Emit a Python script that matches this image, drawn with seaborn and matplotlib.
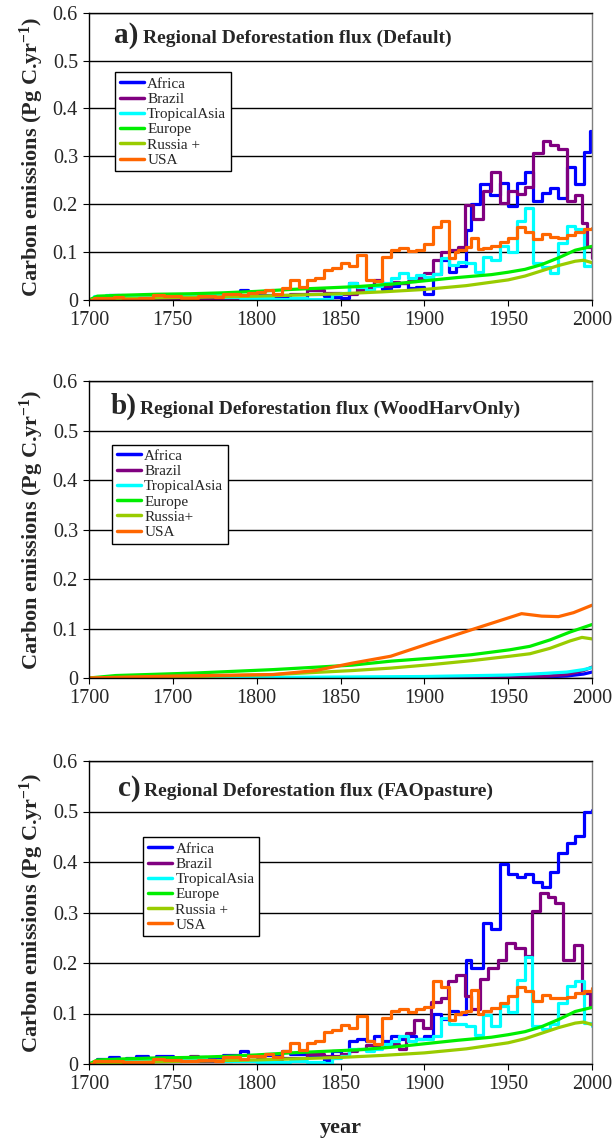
import matplotlib
matplotlib.use("Agg")
import matplotlib.pyplot as plt
import seaborn as sns

# ---- data (year, Pg C/yr) ----
regions = ["Africa", "Brazil", "TropicalAsia", "Europe", "Russia +", "USA"]
colors = ["#0000FF", "#800080", "#00FFFF", "#00EE00", "#99CC00", "#FF6600"]

# panel a: Default
a_africa = [(1700, 0.0), (1703, 0.006), (1712, 0.01), (1718, 0.006), (1735, 0.008), (1760, 0.007),
            (1775, 0.01), (1790, 0.02), (1795, 0.015), (1800, 0.01), (1810, 0.008), (1820, 0.004),
            (1830, 0.012), (1840, 0.009), (1845, 0.006), (1850, 0.004), (1855, 0.035), (1860, 0.022),
            (1865, 0.028), (1870, 0.04), (1875, 0.022), (1880, 0.03), (1885, 0.036), (1890, 0.026),
            (1895, 0.028), (1900, 0.013), (1905, 0.055), (1910, 0.083), (1915, 0.058), (1919, 0.072),
            (1925, 0.146), (1928, 0.2), (1933, 0.243), (1939, 0.22), (1945, 0.245), (1950, 0.197),
            (1955, 0.244), (1960, 0.268), (1965, 0.207), (1970, 0.223), (1975, 0.233), (1980, 0.213),
            (1985, 0.277), (1990, 0.242), (1995, 0.31), (1999, 0.352), (2000, 0.352)]
a_brazil = [(1700, 0.0), (1705, 0.003), (1725, 0.002), (1750, 0.004), (1770, 0.002), (1790, 0.005),
            (1800, 0.008), (1810, 0.01), (1820, 0.012), (1830, 0.02), (1840, 0.015), (1850, 0.012),
            (1860, 0.02), (1865, 0.026), (1870, 0.042), (1875, 0.03), (1880, 0.038), (1885, 0.035),
            (1890, 0.04), (1895, 0.046), (1900, 0.056), (1905, 0.083), (1910, 0.1), (1915, 0.104),
            (1920, 0.11), (1924, 0.198), (1929, 0.17), (1935, 0.228), (1940, 0.267), (1945, 0.203),
            (1950, 0.227), (1955, 0.222), (1960, 0.235), (1965, 0.306), (1971, 0.333), (1975, 0.323),
            (1980, 0.315), (1985, 0.207), (1990, 0.22), (1994, 0.16), (1997, 0.11), (2000, 0.088)]
a_tropasia = [(1700, 0.0), (1703, 0.008), (1710, 0.01), (1720, 0.008), (1740, 0.01), (1760, 0.012),
              (1770, 0.01), (1780, 0.006), (1790, 0.004), (1800, 0.005), (1810, 0.003), (1820, 0.005),
              (1830, 0.003), (1840, 0.002), (1845, 0.012), (1850, 0.015), (1855, 0.035), (1860, 0.028),
              (1865, 0.02), (1870, 0.03), (1875, 0.035), (1880, 0.045), (1885, 0.057), (1890, 0.045),
              (1895, 0.052), (1900, 0.048), (1905, 0.055), (1910, 0.087), (1915, 0.073), (1920, 0.08),
              (1925, 0.078), (1930, 0.058), (1935, 0.09), (1940, 0.083), (1945, 0.112), (1950, 0.1),
              (1955, 0.165), (1960, 0.193), (1965, 0.077), (1970, 0.068), (1975, 0.056), (1980, 0.118),
              (1985, 0.155), (1990, 0.148), (1995, 0.07), (2000, 0.075)]
a_usa = [(1700, 0.0), (1703, 0.005), (1715, 0.006), (1720, 0.003), (1730, 0.004), (1738, 0.01),
         (1745, 0.008), (1755, 0.005), (1765, 0.008), (1775, 0.006), (1780, 0.013), (1790, 0.01),
         (1795, 0.015), (1800, 0.016), (1805, 0.02), (1810, 0.013), (1815, 0.025), (1820, 0.041),
         (1825, 0.027), (1830, 0.042), (1835, 0.045), (1840, 0.063), (1845, 0.067), (1850, 0.078),
         (1855, 0.072), (1860, 0.094), (1865, 0.042), (1870, 0.04), (1875, 0.09), (1880, 0.104),
         (1885, 0.108), (1890, 0.102), (1895, 0.105), (1900, 0.116), (1905, 0.153), (1910, 0.166),
         (1915, 0.088), (1918, 0.1), (1920, 0.105), (1925, 0.11), (1928, 0.13), (1932, 0.106),
         (1935, 0.108), (1940, 0.112), (1945, 0.122), (1950, 0.13), (1955, 0.153), (1960, 0.143),
         (1965, 0.127), (1970, 0.137), (1975, 0.132), (1980, 0.13), (1985, 0.135), (1990, 0.143),
         (1995, 0.148), (2000, 0.15)]
europe = [(1700, 0.0), (1705, 0.008), (1720, 0.01), (1740, 0.012), (1760, 0.013), (1780, 0.015),
          (1800, 0.018), (1820, 0.022), (1840, 0.025), (1860, 0.028), (1880, 0.033), (1900, 0.04),
          (1920, 0.047), (1940, 0.053), (1950, 0.058), (1960, 0.064), (1970, 0.074), (1980, 0.088),
          (1990, 0.104), (1995, 0.108), (2000, 0.112)]
russia = [(1700, 0.0), (1720, 0.003), (1750, 0.005), (1800, 0.008), (1850, 0.013), (1875, 0.017),
          (1900, 0.022), (1925, 0.03), (1950, 0.042), (1960, 0.05), (1970, 0.061), (1980, 0.072),
          (1990, 0.081), (1995, 0.083), (2000, 0.078)]

# panel b: WoodHarvOnly
b_africa = [(1700, 0.0), (1900, 0.0), (1950, 0.001), (1970, 0.002), (1985, 0.004), (1995, 0.008), (2000, 0.012)]
b_brazil = [(1700, 0.0), (1900, 0.0), (1950, 0.001), (1970, 0.003), (1985, 0.007), (1995, 0.015), (2000, 0.022)]
b_tropasia = [(1700, 0.0), (1800, 0.001), (1900, 0.003), (1950, 0.006), (1970, 0.009), (1985, 0.012),
              (1995, 0.017), (2000, 0.021)]
b_europe = [(1700, 0.0), (1716, 0.005), (1763, 0.01), (1810, 0.017), (1857, 0.026), (1880, 0.034),
            (1904, 0.04), (1928, 0.047), (1951, 0.057), (1963, 0.064), (1975, 0.077), (1987, 0.093),
            (2000, 0.108)]
b_russia = [(1700, 0.0), (1763, 0.003), (1810, 0.007), (1857, 0.015), (1880, 0.02), (1904, 0.027),
            (1928, 0.035), (1951, 0.044), (1963, 0.049), (1975, 0.06), (1987, 0.075), (1994, 0.082),
            (2000, 0.079)]
b_usa = [(1700, 0.0), (1750, 0.004), (1810, 0.007), (1835, 0.015), (1857, 0.03), (1880, 0.044),
         (1904, 0.071), (1935, 0.105), (1958, 0.13), (1970, 0.125), (1980, 0.124), (1989, 0.132),
         (2000, 0.147)]

# panel c: FAOpasture
c_africa = [(1700, 0.0), (1705, 0.01), (1712, 0.013), (1718, 0.008), (1722, 0.012), (1728, 0.015),
            (1735, 0.012), (1740, 0.015), (1750, 0.012), (1760, 0.014), (1770, 0.012), (1780, 0.018),
            (1790, 0.025), (1795, 0.015), (1800, 0.018), (1810, 0.015), (1815, 0.026), (1820, 0.02),
            (1830, 0.015), (1840, 0.008), (1845, 0.025), (1850, 0.02), (1855, 0.045), (1860, 0.05),
            (1865, 0.045), (1870, 0.055), (1875, 0.045), (1880, 0.055), (1885, 0.05), (1890, 0.055),
            (1895, 0.05), (1900, 0.055), (1905, 0.1), (1910, 0.09), (1915, 0.105), (1920, 0.1),
            (1925, 0.205), (1928, 0.19), (1935, 0.28), (1940, 0.268), (1945, 0.396), (1950, 0.376),
            (1955, 0.371), (1960, 0.377), (1965, 0.361), (1970, 0.351), (1975, 0.38), (1980, 0.418),
            (1985, 0.437), (1990, 0.451), (1995, 0.5), (2000, 0.502)]
c_brazil = [(1700, 0.0), (1705, 0.003), (1730, 0.005), (1755, 0.01), (1760, 0.015), (1765, 0.005),
            (1785, 0.008), (1800, 0.01), (1815, 0.012), (1830, 0.02), (1840, 0.015), (1850, 0.02),
            (1855, 0.025), (1860, 0.03), (1865, 0.038), (1870, 0.035), (1880, 0.04), (1885, 0.03),
            (1889, 0.062), (1894, 0.088), (1899, 0.071), (1904, 0.123), (1910, 0.13), (1914, 0.165),
            (1919, 0.176), (1924, 0.134), (1928, 0.109), (1933, 0.168), (1938, 0.191), (1944, 0.206),
            (1949, 0.239), (1954, 0.229), (1960, 0.213), (1964, 0.302), (1969, 0.338), (1974, 0.331),
            (1978, 0.318), (1983, 0.206), (1989, 0.236), (1994, 0.14), (1999, 0.114), (2000, 0.114)]
c_tropasia = [(1700, 0.0), (1703, 0.006), (1720, 0.008), (1740, 0.01), (1760, 0.012), (1770, 0.008),
              (1780, 0.005), (1800, 0.004), (1810, 0.003), (1820, 0.005), (1830, 0.003), (1840, 0.002),
              (1845, 0.012), (1850, 0.015), (1855, 0.03), (1865, 0.025), (1870, 0.03), (1875, 0.04),
              (1880, 0.045), (1885, 0.056), (1890, 0.045), (1895, 0.05), (1905, 0.055), (1910, 0.091),
              (1915, 0.08), (1925, 0.075), (1930, 0.058), (1935, 0.097), (1940, 0.076), (1945, 0.115),
              (1950, 0.102), (1955, 0.167), (1960, 0.211), (1964, 0.076), (1970, 0.07), (1975, 0.08),
              (1980, 0.12), (1985, 0.155), (1990, 0.165), (1995, 0.081), (2000, 0.075)]
c_usa = [(1700, 0.0), (1703, 0.005), (1715, 0.006), (1720, 0.003), (1730, 0.004), (1738, 0.01),
         (1745, 0.008), (1755, 0.005), (1765, 0.008), (1775, 0.006), (1780, 0.013), (1790, 0.01),
         (1795, 0.015), (1800, 0.016), (1805, 0.02), (1810, 0.013), (1815, 0.025), (1820, 0.041),
         (1825, 0.027), (1830, 0.042), (1835, 0.045), (1840, 0.063), (1845, 0.067), (1850, 0.078),
         (1855, 0.072), (1860, 0.096), (1866, 0.045), (1870, 0.04), (1875, 0.091), (1880, 0.105),
         (1885, 0.108), (1890, 0.102), (1895, 0.108), (1900, 0.113), (1905, 0.165), (1910, 0.152),
         (1915, 0.087), (1918, 0.1), (1922, 0.103), (1925, 0.105), (1928, 0.146), (1932, 0.1),
         (1935, 0.105), (1940, 0.11), (1945, 0.12), (1950, 0.135), (1955, 0.152), (1960, 0.145),
         (1965, 0.125), (1970, 0.136), (1975, 0.13), (1980, 0.13), (1985, 0.132), (1990, 0.14),
         (1995, 0.145), (2000, 0.15)]

year_ticks = [1700, 1750, 1800, 1850, 1900, 1950, 2000]
year_labels = ["1700", "1750", "1800", "1850", "1900", "1950", "2000"]
year_labels_b = ["1700", "1700", "1800", "1850", "1900", "1950", "2000"]  # as printed in the original
y_ticks = [0, 0.1, 0.2, 0.3, 0.4, 0.5, 0.6]
y_labels = ["0", "0.1", "0.2", "0.3", "0.4", "0.5", "0.6"]

panels = [
    dict(letter="a)", title="Regional Deforestation flux (Default)",
         series=[a_africa, a_brazil, a_tropasia, europe, russia, a_usa],
         names=regions, steps=True, xlabels=year_labels,
         pos=[89, 12.7, 592, 300], leg=(0.052, 0.792), title_x=0.05, title_y=0.552),
    dict(letter="b)", title="Regional Deforestation flux (WoodHarvOnly)",
         series=[b_africa, b_brazil, b_tropasia, b_europe, b_russia, b_usa],
         names=["Africa", "Brazil", "TropicalAsia", "Europe", "Russia+", "USA"], steps=False,
         xlabels=year_labels_b, pos=[89, 381, 592, 678], leg=(0.046, 0.786), title_x=0.042, title_y=0.549),
    dict(letter="c)", title="Regional Deforestation flux (FAOpasture)",
         series=[c_africa, c_brazil, c_tropasia, europe, russia, c_usa],
         names=regions, steps=True, xlabels=year_labels,
         pos=[89, 761, 592, 1064], leg=(0.108, 0.748), title_x=0.057, title_y=0.545),
]

sns.set_theme(style="white")
plt.rcParams["font.family"] = ["Liberation Serif", "DejaVu Serif"]
plt.rcParams["mathtext.fontset"] = "custom"
plt.rcParams["mathtext.rm"] = "Liberation Serif:bold"
plt.rcParams["mathtext.it"] = "Liberation Serif:bold"
plt.rcParams["mathtext.bf"] = "Liberation Serif:bold"

W, H = 616, 1138
fig = plt.figure(figsize=(W / 100, H / 100), dpi=100)

for p in panels:
    x0, y0, x1, y1 = p["pos"]
    ax = fig.add_axes([x0 / W, 1 - y1 / H, (x1 - x0) / W, (y1 - y0) / H])
    for k, (data, name) in enumerate(zip(p["series"], p["names"])):
        yrs = [d[0] for d in data]
        vals = [d[1] for d in data]
        step = p["steps"] and name not in ("Europe", "Russia +", "Russia+")
        sns.lineplot(x=yrs, y=vals, ax=ax, color=colors[k], linewidth=2.3, label=name,
                     estimator=None, sort=False, drawstyle="steps-post" if step else "default")
    ax.set_xlim(1700, 2000)
    ax.set_ylim(0, 0.6)
    ax.set_xticks(year_ticks)
    ax.set_xticklabels(p["xlabels"])
    ax.set_yticks(y_ticks)
    ax.set_yticklabels(y_labels)
    ax.tick_params(axis="both", direction="out", length=4, width=0.8, color="black",
                   labelsize=14.5, pad=4, bottom=True, left=True)
    ax.yaxis.grid(True, color="black", linewidth=1.0)
    ax.xaxis.grid(False)
    for side in ["left", "bottom", "top"]:
        ax.spines[side].set_color("black")
        ax.spines[side].set_linewidth(1.0)
    ax.spines["right"].set_color("#808080")
    ax.spines["right"].set_linewidth(1.0)
    ax.set_ylabel("Carbon emissions (Pg C.yr$^{-1}$)", fontsize=16, fontweight="bold", labelpad=5)
    ax.set_xlabel("")

    t1 = ax.text(1700 + p["title_x"] * 300, p["title_y"], p["letter"],
                 fontsize=21, fontweight="bold", va="center", ha="left")
    ax.annotate(p["title"], xy=(1, 0), xycoords=t1, xytext=(3, 4.5), textcoords="offset points",
                fontsize=14, fontweight="bold", va="baseline", ha="left")

    leg = ax.legend(loc="upper left", bbox_to_anchor=p["leg"], frameon=True, fancybox=False,
                    edgecolor="black", framealpha=1, fontsize=11, handlelength=1.6,
                    handletextpad=0.2, labelspacing=0.1, borderpad=0.3, borderaxespad=0)
    leg.get_frame().set_linewidth(1.0)
    for line in leg.get_lines():
        line.set_linewidth(2.5)

ax.set_xlabel("year", fontsize=16, fontweight="bold", labelpad=17)

fig.savefig("out.png", dpi=100)
